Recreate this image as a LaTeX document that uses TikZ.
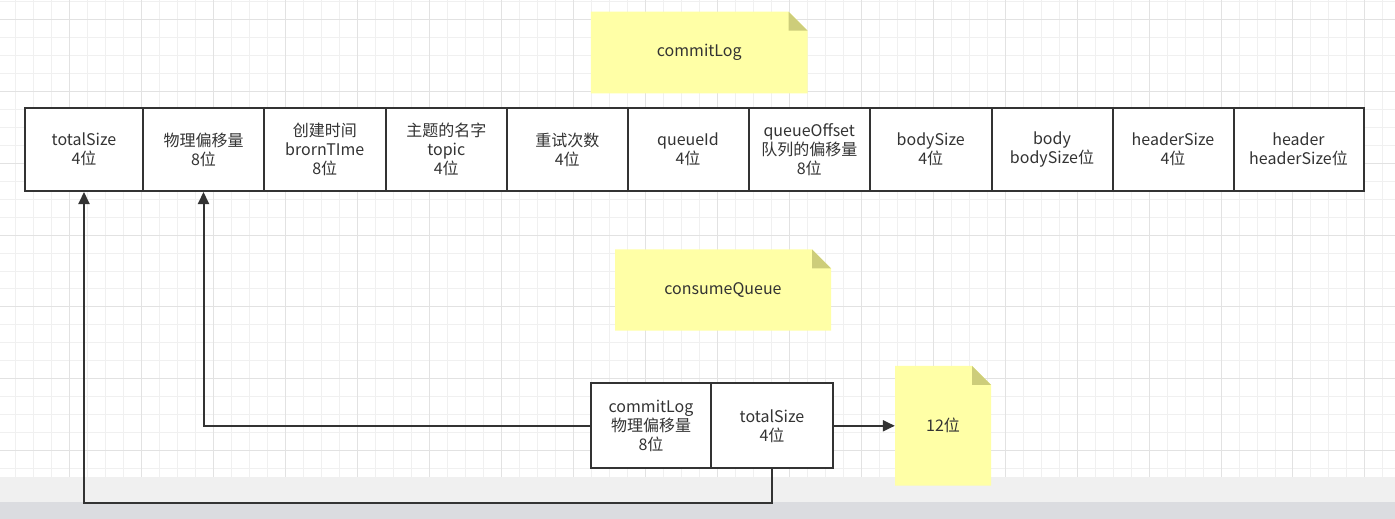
\documentclass[tikz,border=0pt]{standalone}
\usepackage{fontspec}
\setmainfont{Noto Sans CJK SC}
\usepackage{tikz}
\usetikzlibrary{arrows.meta}
\usepackage{xcolor}
\definecolor{ink}{RGB}{51,51,51}
\definecolor{notebg}{RGB}{255,255,166}
\definecolor{notefold}{RGB}{205,205,122}
\definecolor{gridminor}{RGB}{240,240,240}
\definecolor{gridmajor}{RGB}{226,226,226}
\definecolor{band}{RGB}{240,240,240}
\definecolor{desk}{RGB}{219,220,224}

\begin{document}
\begin{tikzpicture}[x=1pt, y=-1pt,
  txt/.style={text=ink, align=center, font=\fontsize{16}{19}\selectfont},
  cell/.style={txt, draw=ink, line width=2pt, fill=white, inner sep=0pt, minimum height=83pt},
  note/.style={txt, inner sep=0pt, path picture={
      \fill[notebg] (path picture bounding box.south west) -- (path picture bounding box.north west)
        -- ([xshift=-19pt]path picture bounding box.north east) -- ([yshift=-19pt]path picture bounding box.north east)
        -- (path picture bounding box.south east) -- cycle;
      \fill[notefold] ([xshift=-19pt]path picture bounding box.north east) -- ([xshift=-19pt,yshift=-19pt]path picture bounding box.north east)
        -- ([yshift=-19pt]path picture bounding box.north east) -- cycle;}},
  link/.style={draw=ink, line width=2pt, -{Triangle[length=12pt,width=11pt]}}]
\useasboundingbox (0,0) rectangle (1395,519);

% canvas: grid, band and desk
\fill[white] (0,0) rectangle (1395,477);
\foreach \k in {0,...,78} {
    \draw[gridminor, line width=1pt] ({-2.3+17.99*\k},0) -- ({-2.3+17.99*\k},477);
}
\foreach \k in {0,...,26} {
    \draw[gridminor, line width=1pt] (0,{1.3+17.98*\k}) -- (1395,{1.3+17.98*\k});
}
\foreach \k in {0,...,19} {
    \draw[gridmajor, line width=1pt] ({-2.3+71.96*\k},0) -- ({-2.3+71.96*\k},477);
}
\foreach \k in {0,...,6} {
    \draw[gridmajor, line width=1pt] (0,{19.3+71.92*\k}) -- (1395,{19.3+71.92*\k});
}
\fill[band] (0,477) rectangle (1395,502);
\fill[desk] (0,502) rectangle (1395,519);

% commitLog record
\node[note, minimum width=216.7pt, minimum height=81.6pt] (commitnote) at (699.3,52.5) {commitLog};
\foreach \nm/\cx/\w/\txt in {
    total/84/118/{totalSize\\4位},
    phys/203.5/121/{物理偏移量\\8位},
    born/324.75/121.5/{创建时间\\brornTIme\\8位},
    topic/446.25/121.5/{主题的名字\\topic\\4位},
    retry/567.25/120.5/{重试次数\\4位},
    qid/688/121/{queueId\\4位},
    qoff/809.25/121.5/{queueOffset\\队列的偏移量\\8位},
    bsize/930.75/121.5/{bodySize\\4位},
    body/1052/121/{body\\bodySize位},
    hsize/1173/121/{headerSize\\4位},
    header/1298.5/130/{header\\headerSize位}} {
    \node[cell, minimum width=\w pt] (\nm) at (\cx,149.5) {\txt};
}

% consumeQueue entry
\node[note, minimum width=216pt, minimum height=81.4pt] (queuenote) at (723,290) {consumeQueue};
\node[cell, minimum width=120pt, minimum height=85pt] (qphys) at (651,425.8) {commitLog\\物理偏移量\\8位};
\node[cell, minimum width=122pt, minimum height=85pt] (qsize) at (772,425.8) {totalSize\\4位};
\node[note, minimum width=96pt, minimum height=119.7pt] (twelve) at (943,425.8) {12位};

% links
\coordinate (low) at (0,503);
\draw[link] (qphys.west) -| (phys.south);
\draw[link] (qsize.south) -- (qsize.south |- low) -| (total.south);
\draw[link] (qsize.east) -- (twelve.west);
\end{tikzpicture}
\end{document}
